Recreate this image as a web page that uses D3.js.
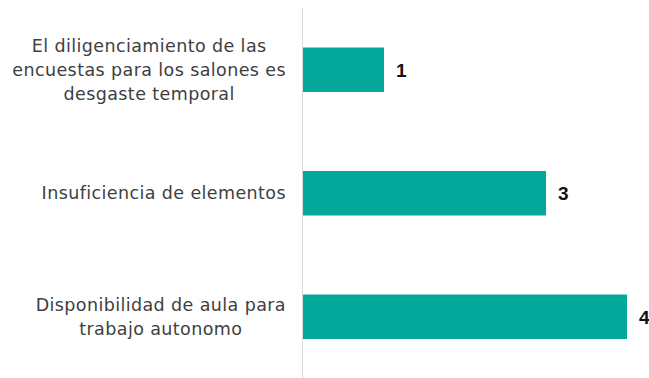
<!DOCTYPE html>
<html>
<head>
<meta charset="utf-8">
<script src="https://cdn.jsdelivr.net/npm/d3@7"></script>
<style>
  body { margin: 0; background: #fff; }
  svg { display: block; }
</style>
</head>
<body>
<svg id="chart"></svg>
<script>
// data
const categories = [
    ["El diligenciamiento de las", "encuestas para los salones es", "desgaste temporal"],
    ["Insuficiencia de elementos"],
    ["Disponibilidad de aula para", "trabajo autonomo"]
];
const values = [1, 3, 4];

const width = 649, height = 378;
const margin = {top: 8, right: 22, bottom: 0, left: 303};

const svg = d3.select('#chart')
    .attr('width', width)
    .attr('height', height);

const x = d3.scaleLinear()
    .domain([0, 4])
    .range([margin.left, width - margin.right]);

const y = d3.scaleBand()
    .domain(d3.range(values.length))
    .range([margin.top, height + 0.5])
    .paddingInner(0.64)
    .paddingOuter(0.32);

// bars
svg.append('g')
    .selectAll('rect')
    .data(values)
    .join('rect')
    .attr('x', x(0))
    .attr('y', (d, i) => y(i))
    .attr('width', d => x(d) - x(0))
    .attr('height', y.bandwidth())
    .attr('fill', '#04a89b');

// vertical axis line
svg.append('line')
    .attr('x1', x(0) - 0.5).attr('x2', x(0) - 0.5)
    .attr('y1', margin.top).attr('y2', height)
    .attr('stroke', '#d9d9d9')
    .attr('stroke-width', 1);

// value labels
svg.append('g')
    .selectAll('text')
    .data(values)
    .join('text')
    .attr('x', d => x(d) + 12)
    .attr('y', (d, i) => y(i) + y.bandwidth() / 2)
    .attr('dy', '0.36em')
    .style('font-family', '"Liberation Sans", Arial, sans-serif')
    .style('font-weight', 'bold')
    .style('font-size', '19px')
    .attr('fill', '#111')
    .text(d => d);

// category labels, lines centred on each other, block right-aligned
const lineH = 24;
const labelRight = 286;
categories.forEach((lines, i) => {
    const cy = y(i) + y.bandwidth() / 2;
    const g = svg.append('g');
    const texts = lines.map((t, j) => g.append('text')
        .attr('y', cy + (j - (lines.length - 1) / 2) * lineH)
        .attr('dy', '0.35em')
        .style('font-family', '"DejaVu Sans", sans-serif')
        .style('font-size', '17.5px')
        .style('letter-spacing', '0.4px')
        .attr('fill', '#404040')
        .attr('text-anchor', 'middle')
        .text(t));
    const widest = d3.max(texts, t => t.node().getComputedTextLength());
    texts.forEach(t => t.attr('x', labelRight - widest / 2));
});
</script>
</body>
</html>
